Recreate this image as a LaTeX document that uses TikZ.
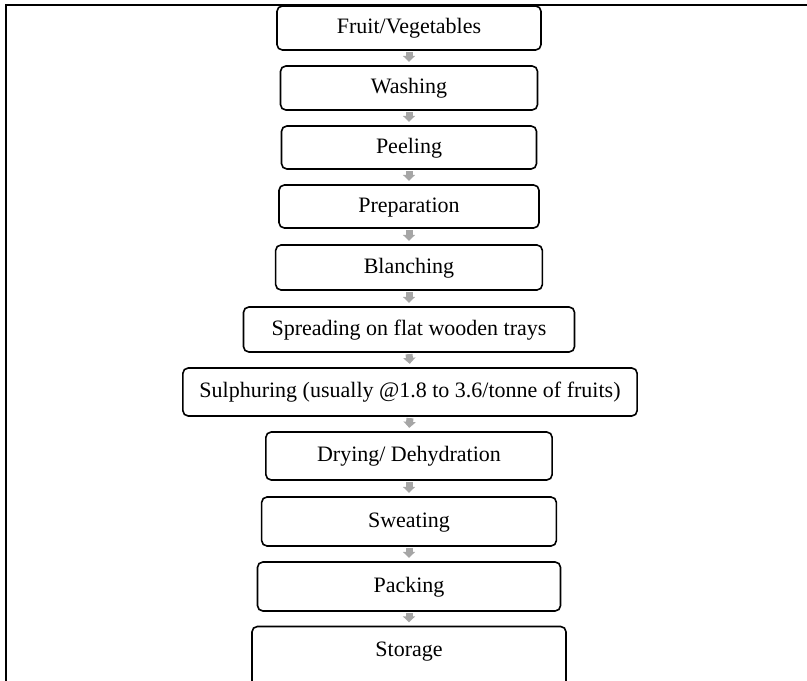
\documentclass[tikz,border=0pt]{standalone}
\usepackage{fontspec}
\setmainfont{Liberation Serif}
\usetikzlibrary{arrows.meta}
\definecolor{arrowgray}{HTML}{A6A6A6}
\begin{document}
\begin{tikzpicture}[x=0.75pt,y=-0.75pt,
  stepbox/.style={draw=black, line width=1.2pt, rounded corners=4pt, fill=white,
    inner sep=0pt, font=\fontsize{16.5}{20}\selectfont, text height=12pt, text depth=3.5pt},
  flowarrow/.style={draw=arrowgray, line width=5.25pt,
    -{Triangle[width=9pt,length=4.5pt]}, shorten <=1pt, shorten >=2.5pt},
  framestyle/.style={draw=black, line width=1.3pt}]
\useasboundingbox (0,0) rectangle (807,681);
\clip (0,0) rectangle (807,681);
\draw[framestyle] (5.8,700) -- (5.8,4.8) -- (820,4.8);
\node[stepbox, minimum width=198pt,   minimum height=33pt]    (n1)  at (409,28)    {Fruit/Vegetables};
\node[stepbox, minimum width=192.75pt,minimum height=33pt]    (n2)  at (409,88)    {Washing};
\node[stepbox, minimum width=191.25pt,minimum height=32.25pt] (n3)  at (409,147.5) {Peeling};
\node[stepbox, minimum width=195pt,   minimum height=32.25pt] (n4)  at (409,206.5) {Preparation};
\node[stepbox, minimum width=200pt,   minimum height=33.75pt] (n5)  at (409,267.5) {Blanching};
\node[stepbox, minimum width=248.25pt,minimum height=33.75pt] (n6)  at (409,329.5) {Spreading on flat wooden trays};
\node[stepbox, minimum width=340.7pt, minimum height=36pt]    (n7)  at (410,392)   {Sulphuring (usually @1.8 to 3.6/tonne of fruits)};
\node[stepbox, minimum width=214.7pt, minimum height=36pt]    (n8)  at (409,456)   {Drying/ Dehydration};
\node[stepbox, minimum width=221pt,   minimum height=36.75pt] (n9)  at (409,521.5) {Sweating};
\node[stepbox, minimum width=227.25pt,minimum height=36.75pt] (n10) at (409,586.5) {Packing};
\node[stepbox, minimum width=235.5pt, minimum height=47.25pt, text depth=14pt] (n11) at (409,658) {Storage};
\foreach \a/\b in {n1/n2,n2/n3,n3/n4,n4/n5,n5/n6,n6/n7,n7/n8,n8/n9,n9/n10,n10/n11}
  \draw[flowarrow] (\a.south) -- (\b.north);
\end{tikzpicture}
\end{document}
